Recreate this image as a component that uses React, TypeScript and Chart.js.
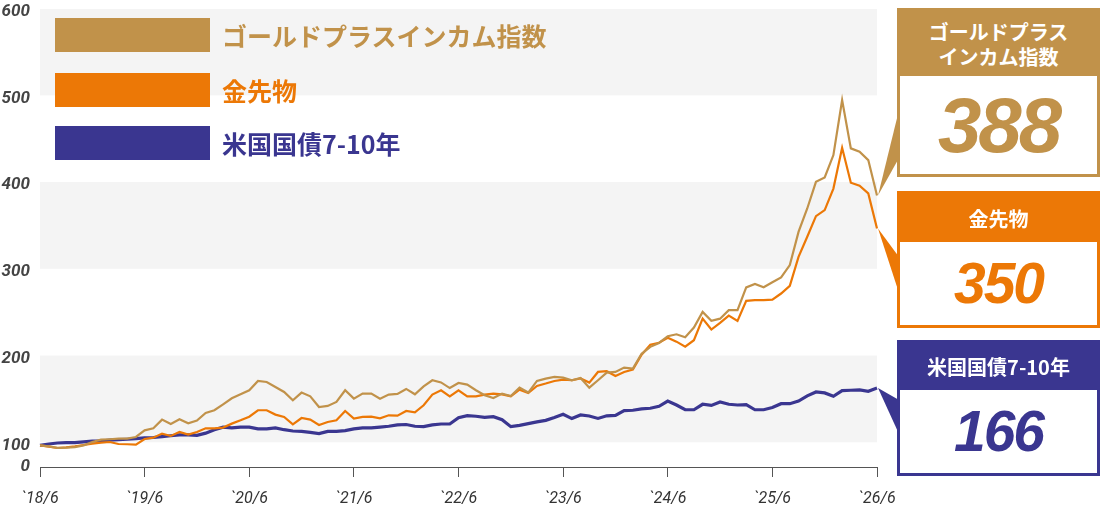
import React, { useEffect, useRef } from "react";
import { Chart, registerables } from "chart.js";

Chart.register(...registerables);

const GOLD = "#C1924A";
const ORANGE = "#EC7806";
const NAVY = "#3A3690";

// monthly, 2018/6 .. 2026/6 (index 100 at start)
const goldIncome = [
  100, 98.8, 97, 97.3, 98, 100, 103.8, 106.5, 107, 107.7, 107.7, 109.6,
  117.3, 119.6, 129.6, 124.6, 130, 125.4, 128.5, 137.3, 140.4, 147.3, 154.2, 158.8,
  163.5, 174.2, 173, 167.3, 161.5, 152, 160.8, 156.5, 144.2, 145.4, 150, 163.5,
  153.8, 159.6, 159.6, 153.8, 158.5, 159.2, 165, 158.8, 168, 175, 172.5, 166,
  171.9, 170, 163.5, 157.7, 154.6, 159.6, 156.9, 166.5, 160.8, 174.2, 176.9, 178.8,
  178, 175, 177.7, 166.5, 175, 183.8, 184.6, 189.6, 188.5, 205.5, 213.5, 218,
  225.8, 228, 224.5, 235.8, 253.8, 243.5, 246, 255.8, 255.8, 282, 286, 282.3,
  288, 293.5, 307.7, 346, 373, 403.8, 408.8, 434.6, 498, 442.3, 438.5, 428.8,
  388,
];
const goldFutures = [
  100, 98.5, 96.9, 97.7, 98.8, 100.4, 101.9, 103, 103.8, 101.5, 101.2, 100.8,
  107.3, 108.8, 113.5, 110.8, 115.4, 112.3, 115.4, 119.6, 119.6, 120.4, 125, 128.8,
  133, 140.4, 140.4, 135.4, 132.7, 124.2, 131.5, 129.6, 123.5, 126.9, 128.8, 139.6,
  130.8, 132.7, 133, 131.2, 134.6, 134.2, 139.6, 138, 146.2, 158.5, 163.5, 156.5,
  163.5, 156.5, 156.5, 158.5, 159.6, 158.8, 156.5, 164.2, 160.4, 168.5, 171.2, 174.2,
  175.8, 175, 177, 172.3, 184.6, 185.4, 180, 184.6, 187.3, 204.5, 216, 218.3,
  224, 219.5, 213.8, 221.2, 246, 233.5, 241.2, 249.6, 243.5, 266.5, 267.3, 267.3,
  268, 275, 283.8, 317.3, 340.4, 364.2, 371.2, 396, 443, 402.7, 399.2, 390.4,
  350,
];
const usTreasury = [
  100, 101.5, 102.7, 103, 103, 104, 105, 105, 106, 106.5, 107, 107.7,
  108.5, 109, 110, 111, 112, 112, 111.5, 114, 118, 121, 120, 121,
  121, 119, 119, 120, 118, 116.5, 116, 115, 113.5, 116, 116, 117,
  119, 120, 120, 121, 122, 123.5, 124, 122, 121.5, 123.5, 124.6, 124.6,
  131.9, 134.2, 133.5, 132.3, 133, 129.6, 121.5, 123, 125, 127, 128.8, 132,
  135.8, 130.8, 135, 133.8, 131, 134, 134.6, 140, 140.4, 142, 142.7, 145,
  151, 146.5, 141, 141, 147.3, 146, 150, 147.3, 146.5, 147, 141, 141,
  143.5, 148, 148, 151, 157, 161.5, 160.4, 156.5, 163, 163.5, 163.8, 162.3,
  166,
];

const seriesNames = ["ゴールドプラスインカム指数", "金先物", "米国国債7-10年"];
const panelTitles = [["ゴールドプラス", "インカム指数"], ["金先物"], ["米国国債7-10年"]];
const tickLabels = ["`18/6", "`19/6", "`20/6", "`21/6", "`22/6", "`23/6", "`24/6", "`25/6", "`26/6"];
const yTicks = [75, 100, 200, 300, 400, 500, 600];
const bands = [[100, 200], [300, 400], [500, 600]];

const series = [goldIncome, goldFutures, usTreasury];
const colors = [GOLD, ORANGE, NAVY];
const widths = [2.2, 2.2, 3.2];

const months = goldIncome.map((_, i) => {
  const m = ((5 + i) % 12) + 1;
  const y = 18 + Math.floor((5 + i) / 12);
  return `${y}/${m}`;
});

// layout of the right-hand panels
const PANEL_LEFT = 897;
const panels = [
  { top: 8, height: 169, header: 65, size: 78, spacing: -3 },
  { top: 191, height: 137, header: 48, size: 57, spacing: -2 },
  { top: 340, height: 136, header: 47, size: 57, spacing: -2 },
];
const wedges = [
  { top: 110, bottom: 158 },
  { top: 257, bottom: 293 },
  { top: 400, bottom: 434 },
];
const legendTops = [18, 73, 126];

const bandsPlugin = {
  id: "bands",
  beforeDatasetsDraw(chart: any) {
    const { ctx, chartArea, scales } = chart;
    const y = scales.y;
    ctx.save();
    ctx.fillStyle = "#F4F4F4";
    bands.forEach(([lo, hi]) => {
      const top = Math.max(y.getPixelForValue(hi) - 3, chartArea.top);
      const bottom = y.getPixelForValue(lo) - 3;
      ctx.fillRect(chartArea.left, top, chartArea.right - chartArea.left, bottom - top);
    });
    ctx.restore();
  },
};

const wedgePlugin = {
  id: "wedges",
  afterDatasetsDraw(chart: any) {
    const { ctx } = chart;
    ctx.save();
    wedges.forEach((w, i) => {
      const meta = chart.getDatasetMeta(i);
      const pt = meta.data[meta.data.length - 1];
      ctx.fillStyle = colors[i];
      ctx.beginPath();
      ctx.moveTo(pt.x + 1, pt.y);
      ctx.lineTo(PANEL_LEFT + 2, w.top);
      ctx.lineTo(PANEL_LEFT + 2, w.bottom);
      ctx.closePath();
      ctx.fill();
    });
    ctx.restore();
  },
};

const CJK = '"Noto Sans CJK JP", "Noto Sans", sans-serif';

export default function App() {
  const canvasRef = useRef<HTMLCanvasElement>(null);

  useEffect(() => {
    const ctx = canvasRef.current!.getContext("2d")!;
    const chart = new Chart(ctx, {
      type: "line",
      data: {
        labels: months,
        datasets: series.map((data, i) => ({
          label: seriesNames[i],
          data,
          borderColor: colors[i],
          borderWidth: widths[i],
          pointRadius: 0,
          tension: 0,
          fill: false,
        })),
      },
      options: {
        responsive: false,
        animation: false,
        layout: { padding: { top: 9, right: 223, left: 0, bottom: 0 } },
        plugins: { legend: { display: false }, tooltip: { enabled: false } },
        scales: {
          x: {
            type: "category",
            offset: false,
            grid: {
              display: true,
              drawOnChartArea: false,
              drawTicks: true,
              tickLength: 10,
              lineWidth: 1,
              color: (c: any) => (c.index % 12 === 0 ? "#555" : "rgba(0,0,0,0)"),
            },
            border: { display: true, color: "#555", width: 1 },
            ticks: {
              autoSkip: false,
              maxRotation: 0,
              padding: 12,
              color: "#333",
              font: { family: "Roboto", style: "italic", size: 16 },
              callback: (_v: any, i: number) => (i % 12 === 0 ? tickLabels[i / 12] : ""),
            },
            afterFit: (s: any) => {
              s.height = 43;
              s.paddingLeft = 0;
              s.paddingRight = 0;
            },
          },
          y: {
            min: 75,
            max: 603,
            afterBuildTicks: (s: any) => {
              s.ticks = yTicks.map((v) => ({ value: v }));
            },
            grid: { display: false, drawTicks: false },
            border: { display: false },
            ticks: {
              padding: 10,
              color: "#444",
              font: { family: "Roboto", style: "italic", weight: "bold", size: 17, lineHeight: 1 },
              callback: (v: any) => (v === 75 ? "0" : String(v)),
            },
            afterFit: (s: any) => {
              s.width = 40;
              s.paddingTop = 0;
              s.paddingBottom = 0;
            },
          },
        },
      } as any,
      plugins: [bandsPlugin, wedgePlugin],
    });
    return () => chart.destroy();
  }, []);

  return (
    <div style={{ position: "absolute", left: 0, top: 0, width: 1100, height: 510, background: "#fff", overflow: "hidden" }}>
      <canvas ref={canvasRef} width={1100} height={510} style={{ position: "absolute", left: 0, top: 0 }} />
      {seriesNames.map((name, i) => (
        <div
          key={name}
          style={{ position: "absolute", left: 55, top: legendTops[i], height: 34, display: "flex", alignItems: "center" }}
        >
          <div style={{ width: 155, height: 34, background: colors[i] }} />
          <span
            style={{
              marginLeft: 12,
              fontFamily: CJK,
              fontWeight: 700,
              fontSize: 25,
              color: colors[i],
              whiteSpace: "nowrap",
            }}
          >
            {name}
          </span>
        </div>
      ))}
      {panels.map((p, i) => (
        <div
          key={i}
          style={{
            position: "absolute",
            left: PANEL_LEFT,
            top: p.top,
            width: 203,
            height: p.height,
            border: `3px solid ${colors[i]}`,
            boxSizing: "border-box",
            background: "#fff",
          }}
        >
          <div
            style={{
              height: p.header,
              background: colors[i],
              color: "#fff",
              display: "flex",
              flexDirection: "column",
              alignItems: "center",
              justifyContent: "center",
              fontFamily: CJK,
              fontWeight: 700,
              fontSize: 20,
              lineHeight: "25px",
            }}
          >
            {panelTitles[i].map((t) => (
              <div key={t}>{t}</div>
            ))}
          </div>
          <div
            style={{
              height: p.height - 6 - p.header,
              display: "flex",
              alignItems: "center",
              justifyContent: "center",
              color: colors[i],
              fontFamily: '"Liberation Sans", Arial, sans-serif',
              fontStyle: "italic",
              fontWeight: 700,
              fontSize: p.size,
              letterSpacing: p.spacing,
              lineHeight: 1,
            }}
          >
            {Math.round(series[i][series[i].length - 1])}
          </div>
        </div>
      ))}
    </div>
  );
}
